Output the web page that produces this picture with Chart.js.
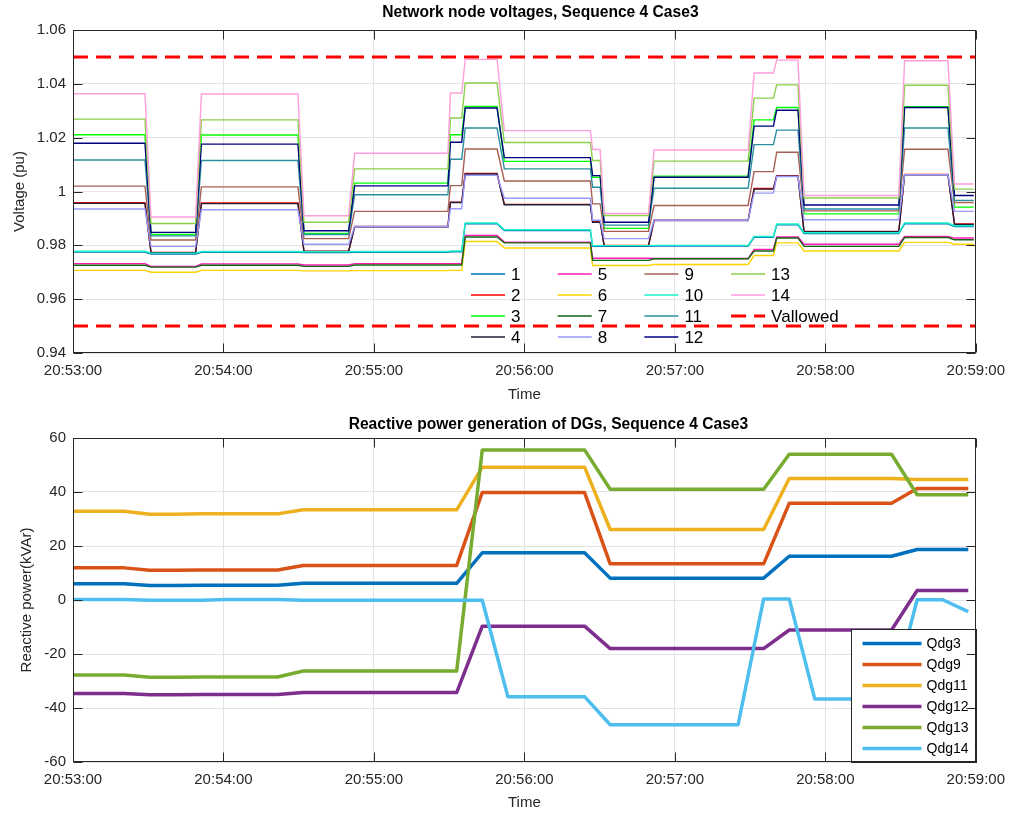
<!DOCTYPE html>
<html>
<head>
<meta charset="utf-8">
<title>Network node voltages and DG reactive power</title>
<script src="https://cdn.jsdelivr.net/npm/chart.js@4.4.1/dist/chart.umd.min.js"></script>
<style>
  html, body { margin: 0; padding: 0; background: #fff; }
  #wrap { position: relative; width: 1014px; height: 814px; }
  canvas { position: absolute; left: 0; }
  #voltChart { top: 0; }
  #qChart { top: 408px; }
</style>
</head>
<body>
<div id="wrap">
  <canvas id="voltChart" width="1014" height="407"></canvas>
  <canvas id="qChart" width="1014" height="406"></canvas>
</div>
<script>
// time axis, seconds after 20:53:00
const timeTicks = [0, 60, 120, 180, 240, 300, 360];
const timeTickLabels = ['20:53:00', '20:54:00', '20:55:00', '20:56:00', '20:57:00', '20:58:00', '20:59:00'];

const voltTicks = [0.94, 0.96, 0.98, 1.0, 1.02, 1.04, 1.06];
const voltTickLabels = ['0.94', '0.96', '0.98', '1', '1.02', '1.04', '1.06'];
const qTicks = [-60, -40, -20, 0, 20, 40, 60];
const qTickLabels = ['-60', '-40', '-20', '0', '20', '40', '60'];

// voltage plateaus: start / end time (s) of each level
const stepStart = [0, 31.1, 51.2, 92.1, 112.3, 150.5, 156.4, 172.0, 207.2, 211.8, 231.7, 271.6, 280.6, 291.5, 331.6, 351.5];
const stepEnd   = [28.7, 48.9, 89.7, 109.9, 149.5, 155.0, 169.1, 206.3, 210.2, 229.5, 269.2, 279.3, 289.1, 329.3, 348.9, 359.2];

// node voltages (pu), one value per plateau
const v1  = [0.9775, 0.9768, 0.9774, 0.9773, 0.9774, 0.9776, 0.9880, 0.9855, 0.9796, 0.9796, 0.9797, 0.9830, 0.9876, 0.9844, 0.9880, 0.9870];
const v2  = [0.9958, 0.9774, 0.9957, 0.9778, 0.9870, 0.9960, 1.0067, 0.9952, 0.9888, 0.9800, 0.9893, 1.0011, 1.0059, 0.9852, 1.0063, 0.9879];
const v3  = [1.0211, 0.9840, 1.0210, 0.9844, 1.0031, 1.0211, 1.0316, 1.0112, 1.0053, 0.9863, 1.0057, 1.0266, 1.0312, 0.9917, 1.0315, 0.9942];
const v4  = [0.9956, 0.9773, 0.9955, 0.9777, 0.9869, 0.9959, 1.0065, 0.9951, 0.9886, 0.9799, 0.9892, 1.0009, 1.0057, 0.9851, 1.0062, 0.9878];
const v5  = [0.9732, 0.9722, 0.9731, 0.9727, 0.9732, 0.9732, 0.9837, 0.9812, 0.9752, 0.9752, 0.9751, 0.9785, 0.9831, 0.9804, 0.9833, 0.9827];
const v6  = [0.9707, 0.9700, 0.9707, 0.9705, 0.9706, 0.9707, 0.9814, 0.9790, 0.9725, 0.9725, 0.9729, 0.9762, 0.9809, 0.9779, 0.9811, 0.9804];
const v7  = [0.9726, 0.9719, 0.9726, 0.9722, 0.9727, 0.9727, 0.9831, 0.9809, 0.9744, 0.9744, 0.9750, 0.9779, 0.9827, 0.9796, 0.9829, 0.9821];
const v8  = [0.9935, 0.9796, 0.9932, 0.9804, 0.9870, 0.9936, 1.0060, 0.9975, 0.9893, 0.9825, 0.9893, 0.9994, 1.0056, 0.9895, 1.0062, 0.9926];
const v9  = [1.0020, 0.9820, 1.0017, 0.9825, 0.9926, 1.0022, 1.0158, 1.0039, 0.9954, 0.9852, 0.9948, 1.0074, 1.0146, 0.9928, 1.0157, 0.9959];
const v10 = [0.9778, 0.9771, 0.9777, 0.9776, 0.9777, 0.9779, 0.9883, 0.9858, 0.9799, 0.9799, 0.9800, 0.9833, 0.9879, 0.9847, 0.9883, 0.9873];
const v11 = [1.0117, 0.9835, 1.0115, 0.9840, 0.9988, 1.0120, 1.0236, 1.0084, 1.0016, 0.9875, 1.0012, 1.0174, 1.0228, 0.9935, 1.0236, 0.9967];
const v12 = [1.0179, 0.9848, 1.0176, 0.9854, 1.0021, 1.0183, 1.0310, 1.0126, 1.0059, 0.9886, 1.0053, 1.0243, 1.0302, 0.9950, 1.0312, 0.9985];
const v13 = [1.0269, 0.9881, 1.0266, 0.9886, 1.0084, 1.0273, 1.0403, 1.0182, 1.0115, 0.9911, 1.0113, 1.0347, 1.0396, 0.9976, 1.0395, 1.0009];
const v14 = [1.0363, 0.9905, 1.0362, 0.9910, 1.0142, 1.0366, 1.0491, 1.0226, 1.0156, 0.9918, 1.0154, 1.0440, 1.0488, 0.9985, 1.0486, 1.0028];

const nodeLevels = [v1, v2, v3, v4, v5, v6, v7, v8, v9, v10, v11, v12, v13, v14];
const nodeNames = ['1', '2', '3', '4', '5', '6', '7', '8', '9', '10', '11', '12', '13', '14'];
const nodeColors = ['#0072BD', '#FF0000', '#00FF00', '#20203A', '#FF1AB4', '#FFD400', '#126312',
                    '#9999FF', '#A85F55', '#19F5C8', '#2A8FA0', '#000080', '#8BCF4A', '#FF9EDC'];

// allowed voltage band
const allowedLimits = [0.95, 1.05];

// DG reactive power (kVAr), sampled every ~10 s
const qTimes = [0, 10.2, 20.4, 30.6, 40.8, 51, 61.2, 71.4, 81.6, 91.8, 102, 112.2,
                122.4, 132.6, 142.8, 153, 163.2, 173.4, 183.6, 193.8, 204, 214.2, 224.4, 234.6,
                244.8, 255, 265.2, 275.4, 285.6, 295.8, 306, 316.2, 326.4, 336.6, 346.8, 357];
const qdg3  = [6.0, 6.0, 6.0, 5.4, 5.4, 5.5, 5.5, 5.5, 5.5, 6.2, 6.2, 6.2, 6.2, 6.2, 6.2, 6.2,
               17.5, 17.5, 17.5, 17.5, 17.5, 8.1, 8.1, 8.1, 8.1, 8.1, 8.1, 8.1,
               16.2, 16.2, 16.2, 16.2, 16.2, 18.7, 18.7, 18.7];
const qdg9  = [11.9, 11.9, 11.9, 11.0, 11.0, 11.1, 11.1, 11.1, 11.1, 12.8, 12.8, 12.8, 12.8, 12.8, 12.8, 12.8,
               39.8, 39.8, 39.8, 39.8, 39.8, 13.4, 13.4, 13.4, 13.4, 13.4, 13.4, 13.4,
               35.8, 35.8, 35.8, 35.8, 35.8, 41.3, 41.3, 41.3];
const qdg11 = [32.9, 32.9, 32.9, 31.8, 31.8, 31.9, 31.9, 31.9, 31.9, 33.4, 33.4, 33.4, 33.4, 33.4, 33.4, 33.4,
               49.2, 49.2, 49.2, 49.2, 49.2, 26.1, 26.1, 26.1, 26.1, 26.1, 26.1, 26.1,
               45.0, 45.0, 45.0, 45.0, 45.0, 44.6, 44.6, 44.6];
const qdg12 = [-34.6, -34.6, -34.6, -35.1, -35.1, -35.0, -35.0, -35.0, -35.0, -34.3, -34.3, -34.3, -34.3, -34.3, -34.3, -34.3,
               -9.7, -9.7, -9.7, -9.7, -9.7, -18.0, -18.0, -18.0, -18.0, -18.0, -18.0, -18.0,
               -11.1, -11.1, -11.1, -11.1, -11.1, 3.5, 3.5, 3.5];
const qdg13 = [-27.8, -27.8, -27.8, -28.6, -28.6, -28.5, -28.5, -28.5, -28.5, -26.3, -26.3, -26.3, -26.3, -26.3, -26.3, -26.3,
               55.6, 55.6, 55.6, 55.6, 55.6, 41.0, 41.0, 41.0, 41.0, 41.0, 41.0, 41.0,
               54.0, 54.0, 54.0, 54.0, 54.0, 39.0, 39.0, 39.0];
const qdg14 = [0.2, 0.2, 0.2, -0.1, -0.1, -0.1, 0.2, 0.2, 0.2, -0.1, -0.1, -0.1, -0.1, -0.1, -0.1, -0.1,
               -0.1, -35.8, -35.8, -35.8, -35.8, -46.2, -46.2, -46.2, -46.2, -46.2, -46.2, 0.4,
               0.4, -36.7, -36.7, -36.7, -36.7, 0.1, 0.1, -4.3];

const qSeries = [qdg3, qdg9, qdg11, qdg12, qdg13, qdg14];
const qNames = ['Qdg3', 'Qdg9', 'Qdg11', 'Qdg12', 'Qdg13', 'Qdg14'];
const qColors = ['#0072BD', '#D95319', '#EDB120', '#7E2F8E', '#77AC30', '#4DBEEE'];

const FONT = '"Liberation Sans", Arial, Helvetica, sans-serif';
const AXIS_COLOR = '#262626';
const GRID_COLOR = '#e3e3e3';

// box around the plot, inward tick marks on all four sides, bold title
function axesFrame(title, gap, shift) {
  return {
    id: 'axesFrame',
    afterDraw(chart) {
      const { ctx, chartArea: a, scales } = chart;
      const L = Math.round(a.left) + 0.5, R = Math.round(a.right) - 0.5;
      const T = Math.round(a.top) + 0.5, B = Math.round(a.bottom) - 0.5;
      ctx.save();
      ctx.strokeStyle = AXIS_COLOR;
      ctx.lineWidth = 1;
      ctx.strokeRect(L, T, R - L, B - T);
      ctx.beginPath();
      scales.x.ticks.forEach(t => {
        const px = Math.round(scales.x.getPixelForValue(t.value)) + 0.5;
        ctx.moveTo(px, B); ctx.lineTo(px, B - 9);
        ctx.moveTo(px, T); ctx.lineTo(px, T + 9);
      });
      scales.y.ticks.forEach(t => {
        const py = Math.round(scales.y.getPixelForValue(t.value)) + 0.5;
        ctx.moveTo(L, py); ctx.lineTo(L + 9, py);
        ctx.moveTo(R, py); ctx.lineTo(R - 9, py);
      });
      ctx.stroke();
      ctx.fillStyle = '#000';
      ctx.font = 'bold 15.6px ' + FONT;
      ctx.textAlign = 'center';
      ctx.textBaseline = 'middle';
      ctx.fillText(title, (a.left + a.right) / 2 + shift, a.top - gap);
      ctx.restore();
    }
  };
}

// node legend: four columns, no box
const voltLegend = {
  id: 'voltLegend',
  afterDatasetsDraw(chart) {
    const { ctx, chartArea: a } = chart;
    const entries = nodeNames.map((n, i) => ({ label: n, color: nodeColors[i], width: 1.4, dash: [] }));
    entries.push({ label: 'Vallowed', color: '#FF0000', width: 3, dash: [15, 8] });
    const x0 = a.left + 398, y0 = a.top + 244;
    ctx.save();
    ctx.font = '17px ' + FONT;
    ctx.textBaseline = 'middle';
    ctx.textAlign = 'left';
    entries.forEach((e, i) => {
      const col = Math.floor(i / 4), row = i % 4;
      const x = x0 + col * 86.7, y = y0 + row * 21;
      ctx.beginPath();
      ctx.strokeStyle = e.color;
      ctx.lineWidth = e.width;
      ctx.setLineDash(e.dash);
      ctx.moveTo(x, y); ctx.lineTo(x + 34, y);
      ctx.stroke();
      ctx.setLineDash([]);
      ctx.fillStyle = '#000';
      ctx.fillText(e.label, x + 40, y + 1);
    });
    ctx.restore();
  }
};

// DG legend: boxed, lower right corner of the plot
const qLegend = {
  id: 'qLegend',
  afterDatasetsDraw(chart) {
    const { ctx, chartArea: a } = chart;
    const w = 125, h = 133;
    const bx = Math.round(a.right - w) + 0.5, by = Math.round(a.bottom - h) + 0.5;
    ctx.save();
    ctx.fillStyle = '#fff';
    ctx.fillRect(bx, by, w, h);
    ctx.strokeStyle = AXIS_COLOR;
    ctx.lineWidth = 1;
    ctx.strokeRect(bx, by, w, h);
    ctx.font = '14px ' + FONT;
    ctx.textBaseline = 'middle';
    ctx.textAlign = 'left';
    qNames.forEach((n, i) => {
      const y = by + 14 + i * 21;
      ctx.beginPath();
      ctx.strokeStyle = qColors[i];
      ctx.lineWidth = 3.5;
      ctx.moveTo(bx + 11, y); ctx.lineTo(bx + 70, y);
      ctx.stroke();
      ctx.fillStyle = '#000';
      ctx.fillText(n, bx + 75, y + 1);
    });
    ctx.restore();
  }
};

function timeAxis(height, titlePad) {
  return {
    type: 'linear',
    min: 0,
    max: 360,
    afterBuildTicks: s => { s.ticks = timeTicks.map(v => ({ value: v })); },
    afterFit: s => { s.height = height; },
    grid: { color: GRID_COLOR, drawTicks: false },
    border: { display: false },
    ticks: {
      color: AXIS_COLOR, font: { family: FONT, size: 15 }, padding: 9,
      maxRotation: 0, autoSkip: false,
      callback: (v, i) => timeTickLabels[i]
    },
    title: { display: true, text: 'Time', color: AXIS_COLOR, font: { family: FONT, size: 15 }, padding: { top: 0, bottom: titlePad } }
  };
}

function valueAxis(min, max, ticks, labels, title, titlePad) {
  return {
    min: min,
    max: max,
    afterBuildTicks: s => { s.ticks = ticks.map(v => ({ value: v })); },
    afterFit: s => { s.width = 73; },
    grid: { color: GRID_COLOR, drawTicks: false },
    border: { display: false },
    ticks: {
      color: AXIS_COLOR, font: { family: FONT, size: 15 }, padding: 7,
      callback: (v, i) => labels[i]
    },
    title: { display: true, text: title, color: AXIS_COLOR, font: { family: FONT, size: 15 }, padding: { top: titlePad, bottom: 0 } }
  };
}

const stepPoints = levels => levels.flatMap((v, j) => [{ x: stepStart[j], y: v }, { x: stepEnd[j], y: v }]);

const voltDatasets = nodeLevels.map((levels, i) => ({
  label: nodeNames[i],
  data: stepPoints(levels),
  borderColor: nodeColors[i],
  borderWidth: 1.4,
  pointRadius: 0,
  tension: 0,
  order: 15 - (i + 1)
}));
allowedLimits.forEach(lim => {
  voltDatasets.push({
    label: 'Vallowed',
    data: [{ x: 0, y: lim }, { x: 360, y: lim }],
    borderColor: '#FF0000',
    borderWidth: 3,
    borderDash: [15, 8],
    pointRadius: 0,
    order: 0
  });
});

new Chart(document.getElementById('voltChart'), {
  type: 'line',
  data: { datasets: voltDatasets },
  options: {
    responsive: false,
    animation: false,
    events: [],
    layout: { padding: { left: 0, right: 37, top: 30, bottom: 0 } },
    plugins: { legend: { display: false }, tooltip: { enabled: false } },
    scales: {
      x: timeAxis(54, 3),
      y: valueAxis(0.94, 1.06, voltTicks, voltTickLabels, 'Voltage (pu)', 11)
    }
  },
  plugins: [axesFrame('Network node voltages, Sequence 4 Case3', 17, 16), voltLegend]
});

new Chart(document.getElementById('qChart'), {
  type: 'line',
  data: {
    datasets: qSeries.map((vals, i) => ({
      label: qNames[i],
      data: vals.map((v, k) => ({ x: qTimes[k], y: v })),
      borderColor: qColors[i],
      borderWidth: 3.5,
      borderJoinStyle: 'round',
      pointRadius: 0,
      tension: 0,
      order: 6 - i
    }))
  },
  options: {
    responsive: false,
    animation: false,
    events: [],
    layout: { padding: { left: 0, right: 37, top: 30, bottom: 0 } },
    plugins: { legend: { display: false }, tooltip: { enabled: false } },
    scales: {
      x: timeAxis(52, 2),
      y: valueAxis(-60, 60, qTicks, qTickLabels, 'Reactive power(kVAr)', 18)
    }
  },
  plugins: [axesFrame('Reactive power generation of DGs, Sequence 4 Case3', 13, 24), qLegend]
});
</script>
</body>
</html>
